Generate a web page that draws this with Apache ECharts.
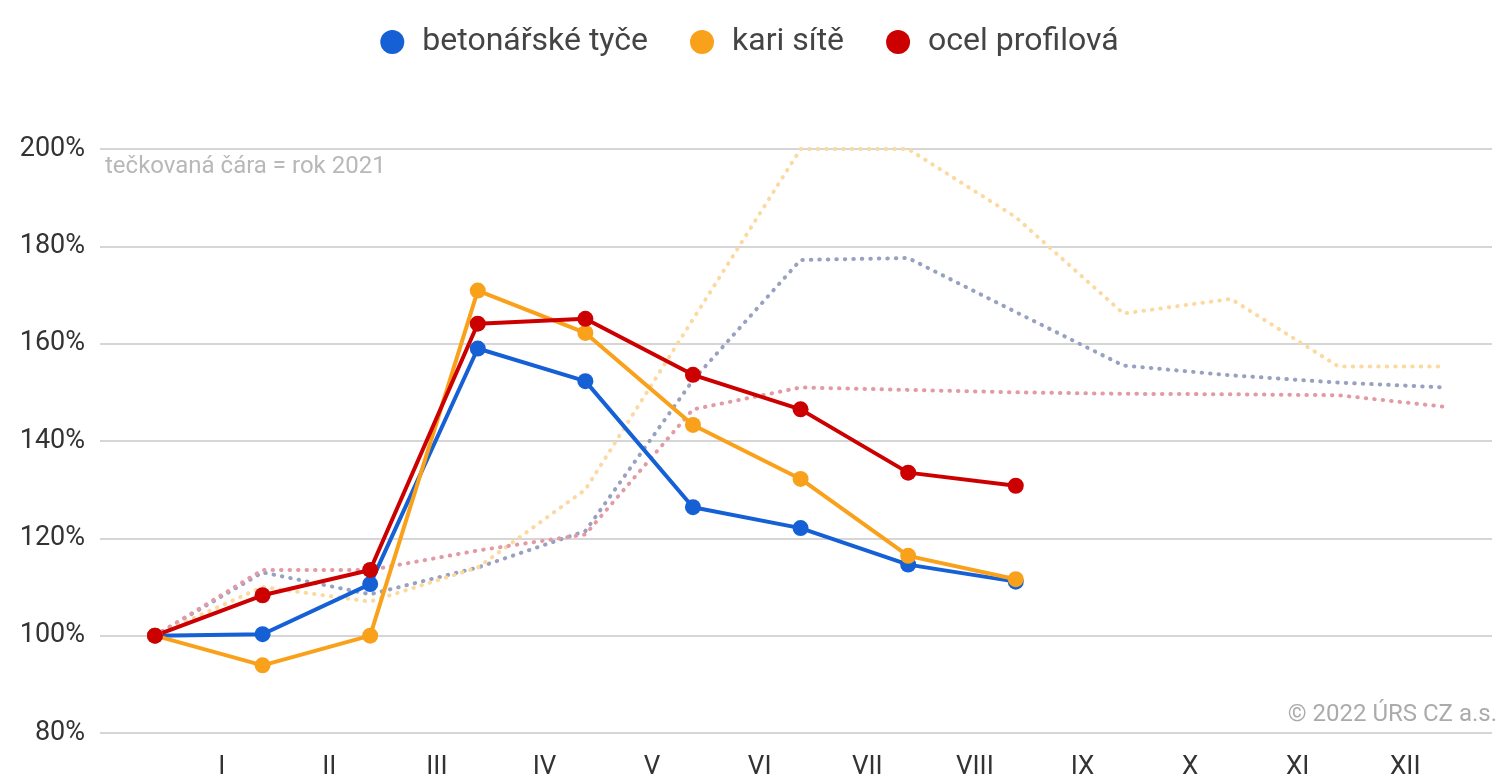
<!DOCTYPE html>
<html>
<head>
<meta charset="utf-8">
<script src="https://cdn.jsdelivr.net/npm/echarts@6/dist/echarts.min.js"></script>
<style>
html,body{margin:0;padding:0;background:#ffffff;}
#c{width:1499px;height:780px;}
</style>
</head>
<body>
<div id="c"></div>
<script>
// ---- data ----
const monthLabels = ['I','II','III','IV','V','VI','VII','VIII','IX','X','XI','XII'];
const seriesNames = ['betonářské tyče','kari sítě','ocel profilová'];
// 2022 (index 0 = base 100 %)
const beton2022 = [100, 100.3, 110.6, 159.0, 152.3, 126.4, 122.1, 114.6, 111.1];
const kari2022  = [100, 93.9, 100.0, 170.9, 162.2, 143.3, 132.2, 116.4, 111.6];
const ocel2022  = [100, 108.3, 113.5, 164.1, 165.1, 153.6, 146.5, 133.5, 130.8];
// 2021 (dotted)
const beton2021 = [100, 113.0, 108.5, 114.0, 121.5, 152.5, 177.2, 177.6, 166.5, 155.5, 153.5, 152.0, 151.0];
const kari2021  = [100, 110.0, 107.0, 114.0, 130.0, 165.0, 200.0, 200.0, 186.0, 166.2, 169.2, 155.3, 155.3];
const ocel2021  = [100, 113.5, 113.5, 117.5, 120.8, 146.5, 151.0, 150.5, 150.0, 149.7, 149.6, 149.4, 147.0];
const yMin = 80, yMax = 200, yStep = 20;
const noteText = 'tečkovaná čára = rok 2021';
const copyText = '© 2022 ÚRS CZ a.s.';

// ---- styles ----
const FONT = 'Roboto';
const colors = ['#1560d4', '#f9a11b', '#cc0000'];
const dotColors = ['#98a1c0', '#fbd9a0', '#e29ba5'];
const LABEL_OFFSET = 0.62;

const pts = arr => arr.map((v, i) => [i, v]);

const solid = (name, data, color) => ({
  name, type: 'line', data: pts(data),
  symbol: 'circle', symbolSize: 16, showSymbol: true,
  itemStyle: { color },
  lineStyle: { color, width: 4 },
  z: 5
});
const dotted = (name, data, color) => ({
  name, type: 'line', data: pts(data),
  showSymbol: false, symbol: 'none', silent: true,
  lineStyle: { color, width: 4, type: [0.5, 8], cap: 'round', join: 'round' },
  z: 2
});

const chart = echarts.init(document.getElementById('c'), null, { renderer: 'canvas' });
chart.setOption({
  animation: false,
  backgroundColor: '#ffffff',
  textStyle: { fontFamily: FONT },
  legend: {
    data: seriesNames,
    top: 21, left: 'center',
    icon: 'circle', itemWidth: 24, itemHeight: 24, itemGap: 42,
    textStyle: { fontSize: 32, color: '#444', fontFamily: FONT, padding: [0, 0, 0, 13] }
  },
  grid: { left: 100, right: 7, top: 149, bottom: 45 },
  xAxis: {
    type: 'value', min: -0.511, max: 12.426,
    axisLine: { show: false }, axisTick: { show: false }, splitLine: { show: false },
    axisLabel: {
      customValues: monthLabels.map((m, i) => i + LABEL_OFFSET),
      formatter: v => monthLabels[Math.round(v - LABEL_OFFSET)] || '',
      fontSize: 26, color: '#333', margin: 21, fontFamily: FONT
    }
  },
  yAxis: {
    type: 'value', min: yMin, max: yMax, interval: yStep,
    axisLine: { show: false }, axisTick: { show: false },
    axisLabel: { formatter: '{value}%', fontSize: 27, color: '#333', margin: 15, fontFamily: FONT },
    splitLine: { lineStyle: { color: '#d6d6d6', width: 2 } }
  },
  graphic: [
    { type: 'text', left: 105, top: 155, silent: true,
      style: { text: noteText, fill: '#b8b8b8', fontSize: 24, fontFamily: FONT } },
    { type: 'text', right: 2, top: 703, silent: true,
      style: { text: copyText, fill: '#ababab', fontSize: 24, fontFamily: FONT } }
  ],
  series: [
    dotted('beton2021', beton2021, dotColors[0]),
    dotted('kari2021', kari2021, dotColors[1]),
    dotted('ocel2021', ocel2021, dotColors[2]),
    solid(seriesNames[0], beton2022, colors[0]),
    solid(seriesNames[1], kari2022, colors[1]),
    solid(seriesNames[2], ocel2022, colors[2])
  ]
});
</script>
</body>
</html>
